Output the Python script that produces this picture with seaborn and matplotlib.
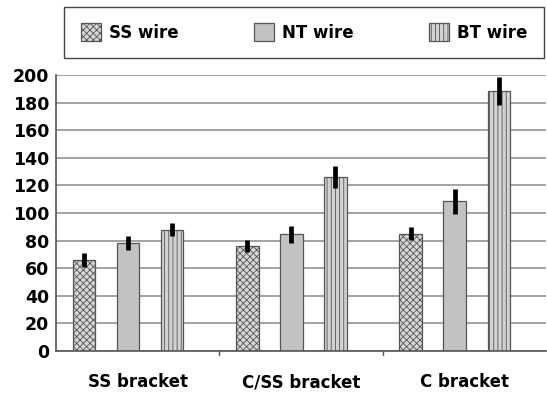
import matplotlib
matplotlib.use("Agg")
import matplotlib.pyplot as plt
import seaborn as sns
import pandas as pd

brackets = ["SS bracket", "C/SS bracket", "C bracket"]
wires = ["SS wire", "NT wire", "BT wire"]
means = {
    "SS wire": [66, 76, 85],
    "NT wire": [78, 84.5, 108.5],
    "BT wire": [88, 126, 188.5],
}
errs = {
    "SS wire": [5, 4.6, 4.8],
    "NT wire": [5, 6, 9],
    "BT wire": [5, 8, 10],
}
yticks = list(range(0, 201, 20))

rows = []
for w in wires:
    for b, m in zip(brackets, means[w]):
        rows.append({"bracket": b, "wire": w, "value": m})
df = pd.DataFrame(rows)

sns.set_style("white")
plt.rcParams["font.family"] = ["DejaVu Sans"]
plt.rcParams["font.weight"] = "bold"
plt.rcParams["hatch.linewidth"] = 0.6
plt.rcParams["text.color"] = "black"
plt.rcParams["xtick.color"] = "black"
plt.rcParams["ytick.color"] = "black"

fig = plt.figure(figsize=(5.47, 3.94), dpi=100)
# axes: x 56..546 px, y 75..351 px
ax = fig.add_axes([56 / 547, 1 - 351 / 394, 490 / 547, 276 / 394])

ax.yaxis.grid(True, color="#8a8a8a", linewidth=1.1, zorder=0)
ax.set_axisbelow(True)

fills = ["#d6d6d6", "#c2c2c2", "#d2d2d2"]
edges = ["#555555", "#555555", "#555555"]
hatches = ["xxxxx", "", "||||"]

sns.barplot(data=df, x="bracket", y="value", hue="wire", order=brackets,
            hue_order=wires, palette=fills, width=0.81, gap=0.49,
            errorbar=None, saturation=1, edgecolor="#555555", linewidth=0.9,
            ax=ax, legend=True, zorder=2)

n = len(brackets)
for i, w in enumerate(wires):
    cont = ax.containers[i]
    for j, p in enumerate(cont.patches):
        p.set_hatch(hatches[i])
        p.set_edgecolor(edges[i])
        xc = p.get_x() + p.get_width() / 2
        ax.errorbar(xc, means[w][j], yerr=errs[w][j], fmt="none",
                    ecolor="black", elinewidth=3.4, capsize=0, zorder=3)

label_shift = 0.059
ax.set_ylim(0, 200)
ax.set_xlim(-0.441, 2.559)
ax.set_yticks(yticks)
ax.set_yticklabels([str(t) for t in yticks], fontsize=12.5, fontweight="bold",
                   color="black")
ax.set_xticks([i + label_shift for i in range(n)])
ax.set_xticklabels(brackets, fontsize=12, fontweight="bold", color="black")
ax.tick_params(axis="x", length=0, pad=16)
ax.tick_params(axis="y", length=3.8, width=1, color="#555555", direction="out", pad=1)
ax.set_xlabel("")
ax.set_ylabel("")
for i in range(n - 1):
    x = i + 0.5 + label_shift
    ax.plot([x, x], [0, -3], color="#555555", lw=1, clip_on=False)
for s in ["top", "right"]:
    ax.spines[s].set_visible(False)
for s in ["left", "bottom"]:
    ax.spines[s].set_color("#555555")
    ax.spines[s].set_linewidth(1.2)

leg = ax.get_legend()
handles = leg.legend_handles
for h, ht, ec in zip(handles, hatches, edges):
    h.set_hatch(ht)
    h.set_edgecolor(ec)
leg.remove()
fig.legend(handles, wires, loc="center",
           bbox_to_anchor=(64 / 547, 1 - 57 / 394, 480 / 547, 49 / 394),
           mode="expand", ncol=3, frameon=True, fancybox=False,
           edgecolor="#444444", framealpha=1,
           prop={"size": 12, "weight": "bold"}, handlelength=1.2,
           handleheight=1.2, borderaxespad=0, borderpad=1.0,
           handletextpad=0.5, labelcolor="black")
fig.legends[0].get_frame().set_linewidth(1.0)

fig.savefig("out.png", dpi=100)
